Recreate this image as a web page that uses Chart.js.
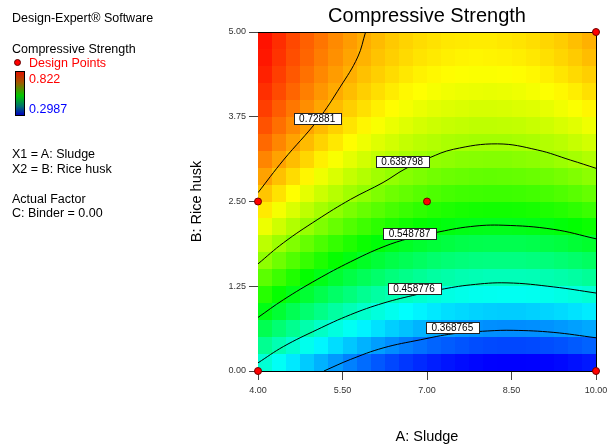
<!DOCTYPE html>
<html lang="en">

<head>
    <meta charset="UTF-8">
    <title>Compressive Strength</title>
    <style>
        body { margin: 0; background: #fff; }
        .wrap { position: relative; width: 608px; height: 446px; font-family: "Liberation Sans", Arial, sans-serif; }
        #chart { position: absolute; left: 0; top: 0; }
        .side { position: absolute; left: 12px; font-size: 12.5px; line-height: 15px; color: #000; white-space: nowrap; }
        .dot { position: absolute; left: 14px; top: 59px; width: 5px; height: 5px; border-radius: 50%; background: #ff0000; border: 1px solid #600000; }
        .bar { position: absolute; left: 15px; top: 71px; width: 8px; height: 43px; border: 1px solid #000;
               background: linear-gradient(to bottom, #e01400 0%, #a05a00 25%, #00c800 55%, #007070 80%, #0000c0 100%); }
    </style>
</head>

<body>
    <div class="wrap">
        <canvas id="chart" width="608" height="446"></canvas>

        <div class="side" style="top:10.5px">Design-Expert® Software</div>
        <div class="side" style="top:41.5px">Compressive Strength</div>
        <div class="dot"></div>
        <div class="side" style="top:55.5px; left:29px; color:#ff0000">Design Points</div>
        <div class="bar"></div>
        <div class="side" style="top:71.5px; left:29px; color:#ff0000">0.822</div>
        <div class="side" style="top:101.5px; left:29px; color:#0000ff">0.2987</div>
        <div class="side" style="top:146.5px">X1 = A: Sludge</div>
        <div class="side" style="top:161.5px">X2 = B: Rice husk</div>
        <div class="side" style="top:191.5px">Actual Factor</div>
        <div class="side" style="top:205.5px">C: Binder = 0.00</div>
    </div>

    <script src="https://cdn.jsdelivr.net/npm/chart.js"></script>
    <script>
        // cell centres of the response grid
        const sludge = [4.125, 4.375, 4.625, 4.875, 5.125, 5.375, 5.625, 5.875, 6.125, 6.375, 6.625, 6.875,
                        7.125, 7.375, 7.625, 7.875, 8.125, 8.375, 8.625, 8.875, 9.125, 9.375, 9.625, 9.875];
        const riceHusk = [0.125, 0.375, 0.625, 0.875, 1.125, 1.375, 1.625, 1.875, 2.125, 2.375,
                          2.625, 2.875, 3.125, 3.375, 3.625, 3.875, 4.125, 4.375, 4.625, 4.875];

        // compressive strength per cell, one row per rice husk value (bottom row first)
        const strength = [
            [0.451, 0.434, 0.418, 0.403, 0.390, 0.377, 0.365, 0.354, 0.344, 0.335, 0.327, 0.320, 0.314, 0.309, 0.305, 0.302, 0.299, 0.298, 0.298, 0.299, 0.300, 0.303, 0.307, 0.311],
            [0.486, 0.469, 0.454, 0.439, 0.425, 0.412, 0.401, 0.390, 0.380, 0.371, 0.363, 0.356, 0.350, 0.346, 0.342, 0.338, 0.336, 0.335, 0.335, 0.336, 0.338, 0.341, 0.345, 0.349],
            [0.519, 0.502, 0.487, 0.472, 0.459, 0.446, 0.435, 0.424, 0.414, 0.405, 0.398, 0.391, 0.385, 0.380, 0.376, 0.374, 0.372, 0.371, 0.371, 0.372, 0.374, 0.377, 0.381, 0.385],
            [0.550, 0.534, 0.518, 0.504, 0.491, 0.478, 0.467, 0.456, 0.447, 0.438, 0.430, 0.424, 0.418, 0.413, 0.410, 0.407, 0.405, 0.404, 0.404, 0.406, 0.408, 0.411, 0.415, 0.420],
            [0.580, 0.563, 0.548, 0.534, 0.521, 0.508, 0.497, 0.486, 0.477, 0.469, 0.461, 0.455, 0.449, 0.444, 0.441, 0.438, 0.437, 0.436, 0.436, 0.437, 0.440, 0.443, 0.447, 0.452],
            [0.607, 0.591, 0.576, 0.562, 0.549, 0.536, 0.525, 0.515, 0.506, 0.497, 0.490, 0.484, 0.478, 0.474, 0.470, 0.468, 0.466, 0.466, 0.466, 0.467, 0.470, 0.473, 0.477, 0.483],
            [0.633, 0.617, 0.602, 0.588, 0.575, 0.563, 0.552, 0.542, 0.532, 0.524, 0.517, 0.511, 0.505, 0.501, 0.498, 0.495, 0.494, 0.494, 0.494, 0.496, 0.498, 0.502, 0.506, 0.511],
            [0.657, 0.641, 0.626, 0.612, 0.599, 0.587, 0.576, 0.566, 0.557, 0.549, 0.542, 0.536, 0.531, 0.527, 0.523, 0.521, 0.520, 0.520, 0.520, 0.522, 0.525, 0.528, 0.533, 0.538],
            [0.682, 0.666, 0.651, 0.638, 0.625, 0.613, 0.602, 0.592, 0.583, 0.575, 0.568, 0.562, 0.557, 0.553, 0.550, 0.548, 0.547, 0.547, 0.548, 0.550, 0.552, 0.556, 0.561, 0.566],
            [0.702, 0.686, 0.672, 0.658, 0.645, 0.634, 0.623, 0.613, 0.605, 0.597, 0.590, 0.584, 0.579, 0.575, 0.572, 0.570, 0.569, 0.569, 0.570, 0.572, 0.575, 0.579, 0.584, 0.590],
            [0.721, 0.706, 0.691, 0.678, 0.665, 0.654, 0.643, 0.634, 0.625, 0.617, 0.611, 0.605, 0.600, 0.596, 0.593, 0.592, 0.591, 0.591, 0.592, 0.594, 0.597, 0.601, 0.606, 0.612],
            [0.739, 0.723, 0.709, 0.696, 0.683, 0.672, 0.661, 0.652, 0.643, 0.636, 0.629, 0.624, 0.619, 0.615, 0.613, 0.611, 0.610, 0.611, 0.612, 0.614, 0.617, 0.621, 0.626, 0.632],
            [0.754, 0.739, 0.725, 0.712, 0.699, 0.688, 0.678, 0.668, 0.660, 0.653, 0.646, 0.641, 0.636, 0.633, 0.630, 0.629, 0.628, 0.628, 0.630, 0.632, 0.635, 0.640, 0.645, 0.651],
            [0.768, 0.753, 0.739, 0.726, 0.714, 0.703, 0.692, 0.683, 0.675, 0.668, 0.661, 0.656, 0.652, 0.648, 0.646, 0.644, 0.644, 0.644, 0.646, 0.648, 0.652, 0.656, 0.662, 0.668],
            [0.780, 0.765, 0.751, 0.738, 0.726, 0.715, 0.705, 0.696, 0.688, 0.681, 0.675, 0.669, 0.665, 0.662, 0.660, 0.658, 0.658, 0.659, 0.660, 0.663, 0.666, 0.671, 0.676, 0.683],
            [0.790, 0.775, 0.761, 0.749, 0.737, 0.726, 0.716, 0.707, 0.699, 0.692, 0.686, 0.681, 0.677, 0.674, 0.672, 0.670, 0.670, 0.671, 0.673, 0.675, 0.679, 0.684, 0.689, 0.696],
            [0.798, 0.784, 0.770, 0.757, 0.745, 0.735, 0.725, 0.716, 0.708, 0.701, 0.695, 0.691, 0.687, 0.684, 0.682, 0.681, 0.680, 0.681, 0.683, 0.686, 0.690, 0.695, 0.700, 0.707],
            [0.805, 0.790, 0.777, 0.764, 0.752, 0.742, 0.732, 0.723, 0.716, 0.709, 0.703, 0.698, 0.695, 0.692, 0.690, 0.689, 0.689, 0.690, 0.692, 0.695, 0.699, 0.704, 0.710, 0.716],
            [0.810, 0.796, 0.782, 0.770, 0.758, 0.748, 0.738, 0.730, 0.722, 0.716, 0.710, 0.705, 0.702, 0.699, 0.697, 0.696, 0.697, 0.698, 0.700, 0.703, 0.707, 0.712, 0.718, 0.725],
            [0.813, 0.799, 0.785, 0.773, 0.762, 0.751, 0.742, 0.733, 0.726, 0.719, 0.714, 0.709, 0.706, 0.703, 0.702, 0.701, 0.701, 0.703, 0.705, 0.708, 0.712, 0.717, 0.724, 0.731]
        ];
        const colorRange = [0.2987, 0.822];

        // contour lines, [A, B] pairs
        const contourLevels = ['0.368765', '0.458776', '0.548787', '0.638798', '0.72881'];
        const contour1 = [[5.17, 0], [5.64, 0.17], [6.22, 0.34], [6.88, 0.46], [7.47, 0.55], [8.07, 0.59], [8.53, 0.60], [9.24, 0.57], [10, 0.49]];
        const contour2 = [[4, 0.12], [4.45, 0.36], [5.05, 0.61], [5.64, 0.83], [6.22, 1.0], [6.83, 1.13], [7.23, 1.2], [7.77, 1.27], [8.42, 1.30], [9.25, 1.24], [10, 1.15]];
        const contour3 = [[4, 0.79], [4.45, 1.05], [5.05, 1.35], [5.64, 1.61], [6.22, 1.83], [6.70, 1.96], [7.14, 2.04], [7.77, 2.13], [8.35, 2.15], [9.24, 2.09], [10, 1.95]];
        const contour4 = [[4, 1.58], [4.45, 1.89], [5.05, 2.23], [5.64, 2.53], [6.22, 2.78], [6.61, 2.98], [7.03, 3.14], [7.47, 3.27], [8.25, 3.35], [8.96, 3.26], [9.55, 3.11], [10, 2.99]];
        const contour5 = [[4, 2.63], [4.45, 3.11], [5.06, 3.70], [5.46, 4.19], [5.77, 4.63], [5.91, 5.0]];
        const labelPos = [[7.45, 0.64], [6.77, 1.21], [6.69, 2.025], [6.56, 3.09], [5.05, 3.72]];

        // design points
        const designA = [4, 4, 7, 10, 10];
        const designB = [0, 2.5, 2.5, 0, 5];

        const xTicks = [4, 5.5, 7, 8.5, 10];
        const yTicks = [0, 1.25, 2.5, 3.75, 5];

        const FONT = '"Liberation Sans", Arial, sans-serif';

        function rampColor(v) {
            let t = (v - colorRange[0]) / (colorRange[1] - colorRange[0]);
            t = Math.max(0, Math.min(1, t));
            const stops = [[0, 0, 255], [0, 255, 255], [0, 255, 0], [255, 255, 0], [255, 0, 0]];
            const p = t * 4;
            const i = Math.min(3, Math.floor(p));
            const f = p - i;
            const c = stops[i].map((s, k) => Math.round(s + (stops[i + 1][k] - s) * f));
            return 'rgb(' + c.join(',') + ')';
        }

        const toXY = (arr) => arr.map(p => ({ x: p[0], y: p[1] }));

        const surfacePlugin = {
            id: 'surface',
            beforeDatasetsDraw(chart) {
                const { ctx, chartArea, scales: { x, y } } = chart;
                const dx = (sludge[1] - sludge[0]) / 2;
                const dy = (riceHusk[1] - riceHusk[0]) / 2;
                ctx.save();
                strength.forEach((row, j) => {
                    row.forEach((v, i) => {
                        const x0 = Math.round(x.getPixelForValue(sludge[i] - dx));
                        const x1 = Math.round(x.getPixelForValue(sludge[i] + dx));
                        const y0 = Math.round(y.getPixelForValue(riceHusk[j] - dy));
                        const y1 = Math.round(y.getPixelForValue(riceHusk[j] + dy));
                        ctx.fillStyle = rampColor(v);
                        ctx.fillRect(x0, y1, x1 - x0, y0 - y1);
                    });
                });
                // frame top and right
                ctx.strokeStyle = '#000';
                ctx.lineWidth = 1;
                ctx.beginPath();
                ctx.moveTo(chartArea.left, chartArea.top + 0.5);
                ctx.lineTo(chartArea.right + 0.5, chartArea.top + 0.5);
                ctx.lineTo(chartArea.right + 0.5, chartArea.bottom);
                ctx.stroke();
                ctx.restore();
            },
            afterDatasetsDraw(chart) {
                const { ctx, scales: { x, y } } = chart;
                ctx.save();
                ctx.font = '10px ' + FONT;
                ctx.textAlign = 'center';
                ctx.textBaseline = 'middle';
                contourLevels.forEach((txt, k) => {
                    const cx = x.getPixelForValue(labelPos[k][0]);
                    const cy = y.getPixelForValue(labelPos[k][1]);
                    const w = Math.round(ctx.measureText(txt).width + 11);
                    const h = 11;
                    const bx = Math.round(cx - w / 2) + 0.5;
                    const by = Math.round(cy - h / 2) + 0.5;
                    ctx.fillStyle = '#fff';
                    ctx.fillRect(bx, by, w, h);
                    ctx.strokeStyle = '#222';
                    ctx.lineWidth = 1;
                    ctx.strokeRect(bx, by, w, h);
                    ctx.fillStyle = '#000';
                    ctx.fillText(txt, cx, cy + 0.5);
                });
                ctx.restore();
            }
        };

        const lineStyle = {
            showLine: true,
            borderColor: '#000',
            borderWidth: 1,
            pointRadius: 0,
            tension: 0.4,
            fill: false
        };

        new Chart(document.getElementById('chart'), {
            type: 'scatter',
            data: {
                datasets: [
                    {
                        label: 'Design Points',
                        data: designA.map((a, i) => ({ x: a, y: designB[i] })),
                        pointRadius: 3.5,
                        backgroundColor: '#ff0000',
                        borderColor: '#700000',
                        borderWidth: 1,
                        clip: false
                    },
                    Object.assign({ label: contourLevels[0], data: toXY(contour1) }, lineStyle),
                    Object.assign({ label: contourLevels[1], data: toXY(contour2) }, lineStyle),
                    Object.assign({ label: contourLevels[2], data: toXY(contour3) }, lineStyle),
                    Object.assign({ label: contourLevels[3], data: toXY(contour4) }, lineStyle),
                    Object.assign({ label: contourLevels[4], data: toXY(contour5) }, lineStyle)
                ]
            },
            options: {
                responsive: false,
                animation: false,
                layout: { padding: { left: 186, right: 12, top: 0, bottom: 0 } },
                plugins: {
                    legend: { display: false },
                    tooltip: { enabled: false },
                    title: {
                        display: true,
                        fullSize: false,
                        text: 'Compressive Strength',
                        color: '#000',
                        font: { family: FONT, size: 20, weight: 'normal', lineHeight: 1.2 },
                        padding: { top: 4, bottom: 4 }
                    }
                },
                scales: {
                    x: {
                        type: 'linear',
                        min: 4,
                        max: 10,
                        afterBuildTicks: (s) => { s.ticks = xTicks.map(v => ({ value: v })); },
                        afterFit: (s) => { s.height = 75; s.paddingLeft = 0; s.paddingRight = 0; },
                        ticks: {
                            callback: (v) => Number(v).toFixed(2),
                            color: '#333',
                            padding: 5,
                            maxRotation: 0,
                            font: { family: FONT, size: 9 }
                        },
                        grid: { drawOnChartArea: false, drawTicks: true, tickLength: 9, color: '#444' },
                        border: { display: true, color: '#000', width: 1 },
                        title: {
                            display: true,
                            text: 'A: Sludge',
                            color: '#000',
                            font: { family: FONT, size: 14.5 },
                            padding: { top: 4, bottom: 0 }
                        }
                    },
                    y: {
                        type: 'linear',
                        min: 0,
                        max: 5,
                        afterBuildTicks: (s) => { s.ticks = yTicks.map(v => ({ value: v })); },
                        afterFit: (s) => { s.width = 72; },
                        ticks: {
                            callback: (v) => Number(v).toFixed(2),
                            color: '#333',
                            padding: 3,
                            font: { family: FONT, size: 9 }
                        },
                        grid: { drawOnChartArea: false, drawTicks: true, tickLength: 9, color: '#444' },
                        border: { display: true, color: '#000', width: 1 },
                        title: {
                            display: true,
                            text: 'B: Rice husk',
                            color: '#000',
                            font: { family: FONT, size: 14.5 },
                            padding: { top: 2, bottom: 0 }
                        }
                    }
                }
            },
            plugins: [surfacePlugin]
        });
    </script>
</body>

</html>
